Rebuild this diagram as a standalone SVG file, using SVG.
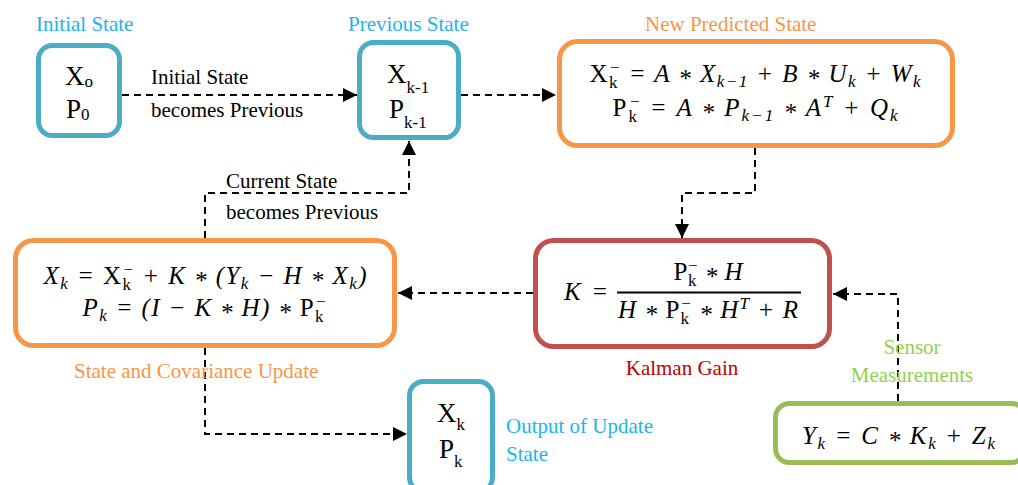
<svg xmlns="http://www.w3.org/2000/svg" width="1018" height="485" viewBox="0 0 1018 485">
<defs>
<marker id="ah" viewBox="0 0 10 10" refX="10" refY="5" markerWidth="15" markerHeight="14" markerUnits="userSpaceOnUse" orient="auto">
<path d="M0,0 L10,5 L0,10 z" fill="#000"/>
</marker>
</defs>
<style>
.box{fill:#fff;stroke-width:5}
.teal{stroke:#4BACC6}
.orange{stroke:#F79646}
.red{stroke:#C0504D}
.green{stroke:#9BBB59}
.lbl{font-family:"Liberation Serif",serif;font-size:21px}
.blue{fill:#1CB4EC}
.otxt{fill:#F79646}
.rtxt{fill:#C00000}
.gtxt{fill:#92D050}
.blk{fill:#000}
.node{font-family:"Liberation Serif",serif;font-size:27px;fill:#000}
.sub{font-size:17px}
.m{font-family:"Liberation Serif",serif;font-size:25px;font-style:italic;fill:#000}
.u{font-style:normal}
.s{font-size:17px}
.conn{fill:none;stroke:#000;stroke-width:2;stroke-dasharray:7,5}
</style>

<g id="connectors">
<path class="conn" d="M122,95 H357" marker-end="url(#ah)"/>
<path class="conn" d="M461,95 H556" marker-end="url(#ah)"/>
<path class="conn" d="M755,148 V193 H682 V238" marker-end="url(#ah)"/>
<path class="conn" d="M205,238 V193 H409 V141" marker-end="url(#ah)"/>
<path class="conn" d="M533,293 H398" marker-end="url(#ah)"/>
<path class="conn" d="M898,401 V294 H833" marker-end="url(#ah)"/>
<path class="conn" d="M205,348 V434 H407" marker-end="url(#ah)"/>
<text class="lbl blk" x="151" y="84">Initial State</text>
<text class="lbl blk" x="151" y="117">becomes Previous</text>
<text class="lbl blk" x="226" y="188">Current State</text>
<text class="lbl blk" x="226" y="219">becomes Previous</text>
</g>

<g id="initial-state">
<rect class="box teal" x="38.5" y="45.5" width="81" height="90" rx="14"/>
<text class="lbl blue" x="36" y="31">Initial State</text>
<text class="node" x="65" y="85">X<tspan class="sub" dy="2">o</tspan></text>
<text class="node" x="66" y="118">P<tspan class="sub" dy="2">0</tspan></text>
</g>

<g id="previous-state">
<rect class="box teal" x="359.5" y="42.5" width="99" height="95" rx="14"/>
<text class="lbl blue" x="348" y="31">Previous State</text>
<text class="node" x="387" y="83">X<tspan class="sub" dy="10">k-1</tspan></text>
<text class="node" x="389" y="118">P<tspan class="sub" dy="10">k-1</tspan></text>
</g>

<g id="new-predicted-state">
<rect class="box orange" x="559.5" y="41.5" width="393" height="104" rx="18"/>
<text class="lbl otxt" x="645" y="31">New Predicted State</text>
<text class="m" x="755" y="82" text-anchor="middle" textLength="331" lengthAdjust="spacing"><tspan class="u">X</tspan><tspan class="u s" dy="6">k</tspan><tspan class="u s" dx="-9" dy="-15">−</tspan><tspan dy="9"> = A </tspan><tspan dy="5">*</tspan><tspan dy="-5"> X</tspan><tspan class="s" dy="5">k−1</tspan><tspan dy="-5"> + B </tspan><tspan dy="5">*</tspan><tspan dy="-5"> U</tspan><tspan class="s" dy="5">k</tspan><tspan dy="-5"> + W</tspan><tspan class="s" dy="5">k</tspan></text>
<text class="m" x="755" y="116" text-anchor="middle" textLength="285" lengthAdjust="spacing"><tspan class="u">P</tspan><tspan class="u s" dy="6">k</tspan><tspan class="u s" dx="-9" dy="-15">−</tspan><tspan dy="9"> = A </tspan><tspan dy="5">*</tspan><tspan dy="-5"> P</tspan><tspan class="s" dy="5">k−1</tspan><tspan dy="-5"> </tspan><tspan dy="5">*</tspan><tspan dy="-5">  A</tspan><tspan class="s" dy="-9">T</tspan><tspan dy="9"> +  Q</tspan><tspan class="s" dy="5">k</tspan></text>
</g>

<g id="kalman-gain">
<rect class="box red" x="535.5" y="240.5" width="294" height="106" rx="18"/>
<text class="lbl rtxt" x="682" y="375" text-anchor="middle">Kalman Gain</text>
<text class="m" x="564" y="300" textLength="44" lengthAdjust="spacing">K =</text>
<line x1="617" y1="292.5" x2="801" y2="292.5" stroke="#000" stroke-width="1.8"/>
<text class="m" x="708" y="280" text-anchor="middle" textLength="69" lengthAdjust="spacing"><tspan class="u">P</tspan><tspan class="u s" dy="6">k</tspan><tspan class="u s" dx="-9" dy="-15">−</tspan><tspan dy="9"> </tspan><tspan dy="5">*</tspan><tspan dy="-5"> H</tspan></text>
<text class="m" x="708" y="318" text-anchor="middle" textLength="180" lengthAdjust="spacing">H <tspan dy="5">*</tspan><tspan dy="-5" class="u"> P</tspan><tspan class="u s" dy="6">k</tspan><tspan class="u s" dx="-9" dy="-15">−</tspan><tspan dy="9"> </tspan><tspan dy="5">*</tspan><tspan dy="-5"> H</tspan><tspan class="s" dy="-9">T</tspan><tspan dy="9"> + R</tspan></text>
</g>

<g id="state-covariance-update">
<rect class="box orange" x="15.5" y="240.5" width="379" height="105" rx="18"/>
<text class="lbl otxt" x="74" y="378">State and Covariance Update</text>
<text class="m" x="205" y="284" text-anchor="middle" textLength="323" lengthAdjust="spacing">X<tspan class="s" dy="5">k</tspan><tspan dy="-5"> = </tspan><tspan class="u">X</tspan><tspan class="u s" dy="6">k</tspan><tspan class="u s" dx="-9" dy="-15">−</tspan><tspan dy="9"> + K </tspan><tspan dy="5">*</tspan><tspan dy="-5"> (Y</tspan><tspan class="s" dy="5">k</tspan><tspan dy="-5"> − H </tspan><tspan dy="5">*</tspan><tspan dy="-5"> X</tspan><tspan class="s" dy="5">k</tspan><tspan dy="-5">)</tspan></text>
<text class="m" x="204" y="316" text-anchor="middle" textLength="243" lengthAdjust="spacing">P<tspan class="s" dy="5">k</tspan><tspan dy="-5"> = (I − K </tspan><tspan dy="5">*</tspan><tspan dy="-5"> H) </tspan><tspan dy="5">*</tspan><tspan dy="-5" class="u"> P</tspan><tspan class="u s" dy="6">k</tspan><tspan class="u s" dx="-9" dy="-15">−</tspan></text>
</g>

<g id="output-update-state">
<rect class="box teal" x="409.5" y="381.5" width="83" height="110" rx="14"/>
<text class="lbl blue" x="506" y="433">Output of Update</text>
<text class="lbl blue" x="506" y="461">State</text>
<text class="node" x="437" y="422">X<tspan class="sub" dy="8">k</tspan></text>
<text class="node" x="439" y="458">P<tspan class="sub" dy="9">k</tspan></text>
</g>

<g id="sensor-measurements">
<rect class="box green" x="775.5" y="403.5" width="250" height="59" rx="14"/>
<text class="lbl gtxt" x="912" y="354" text-anchor="middle">Sensor</text>
<text class="lbl gtxt" x="912" y="382" text-anchor="middle">Measurements</text>
<text class="m" x="802" y="444" textLength="193" lengthAdjust="spacing">Y<tspan class="s" dy="5">k</tspan><tspan dy="-5"> =  C </tspan><tspan dy="5">*</tspan><tspan dy="-5"> K</tspan><tspan class="s" dy="5">k</tspan><tspan dy="-5"> + Z</tspan><tspan class="s" dy="5">k</tspan></text>
</g>
</svg>
